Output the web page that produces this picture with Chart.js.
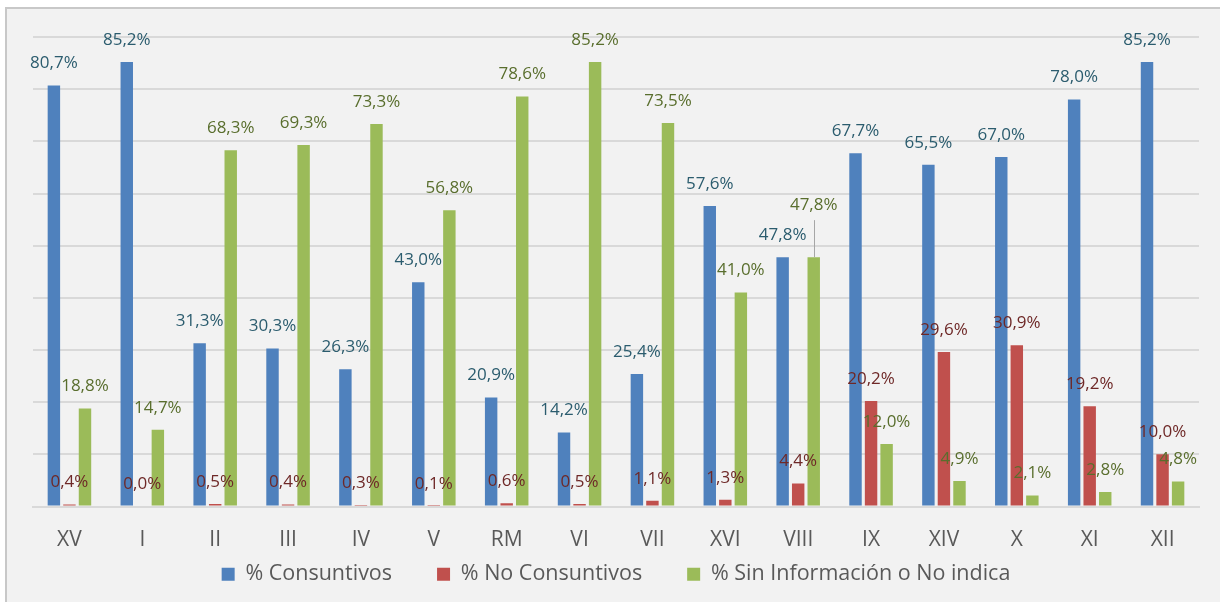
<!DOCTYPE html>
<html>
<head>
<meta charset="utf-8">
<script src="https://cdn.jsdelivr.net/npm/chart.js@4.4.1/dist/chart.umd.min.js"></script>
<style>
  html, body { margin: 0; padding: 0; background: #ffffff; }
  #wrap { width: 1220px; height: 602px; }
</style>
</head>
<body>
<div id="wrap"><canvas id="chart" width="1220" height="602"></canvas></div>
<script>
const regions = ["XV", "I", "II", "III", "IV", "V", "RM", "VI", "VII", "XVI", "VIII", "IX", "XIV", "X", "XI", "XII"];
const consuntivos = [80.7, 85.2, 31.3, 30.3, 26.3, 43.0, 20.9, 14.2, 25.4, 57.6, 47.8, 67.7, 65.5, 67.0, 78.0, 85.2];
const noConsuntivos = [0.4, 0.0, 0.5, 0.4, 0.3, 0.1, 0.6, 0.5, 1.1, 1.3, 4.4, 20.2, 29.6, 30.9, 19.2, 10.0];
const sinInformacion = [18.8, 14.7, 68.3, 69.3, 73.3, 56.8, 78.6, 85.2, 73.5, 41.0, 47.8, 12.0, 4.9, 2.1, 2.8, 4.8];

const FONT = "'Open Sans', Lato, sans-serif";

// labels that sit higher than usual, with a thin leader line down to the bar
const raisedLabels = [{ dataset: 2, index: 10, lift: 30 }];

const frameBackground = {
  id: "frameBackground",
  beforeDraw(chart) {
    const ctx = chart.ctx;
    ctx.save();
    ctx.fillStyle = "#ffffff";
    ctx.fillRect(0, 0, chart.width, chart.height);
    ctx.fillStyle = "#f2f2f2";
    ctx.fillRect(6, 8, chart.width - 6, chart.height - 8);
    ctx.strokeStyle = "#c8c8c8";
    ctx.lineWidth = 2;
    ctx.beginPath();
    ctx.moveTo(6, chart.height);
    ctx.lineTo(6, 8);
    ctx.lineTo(chart.width, 8);
    ctx.stroke();
    ctx.restore();
  },
};

const valueLabels = {
  id: "valueLabels",
  afterDatasetsDraw(chart) {
    const ctx = chart.ctx;
    ctx.save();
    ctx.font = "17px " + FONT;
    ctx.textAlign = "center";
    ctx.textBaseline = "middle";

    chart.data.datasets.forEach((dataset, datasetIndex) => {
      const meta = chart.getDatasetMeta(datasetIndex);
      ctx.fillStyle = dataset.labelColor;

      meta.data.forEach((bar, index) => {
        const value = dataset.data[index];
        const text = value.toFixed(1).replace(".", ",") + "%";
        const raised = raisedLabels.find((r) => r.dataset === datasetIndex && r.index === index);
        let y = bar.y - 22;

        if (raised) {
          y -= raised.lift;
          ctx.save();
          ctx.strokeStyle = "#a6a6a6";
          ctx.lineWidth = 1;
          ctx.beginPath();
          ctx.moveTo(Math.round(bar.x) + 0.5, y + 15);
          ctx.lineTo(Math.round(bar.x) + 0.5, bar.y);
          ctx.stroke();
          ctx.restore();
        }

        ctx.fillText(text, bar.x, y);
      });
    });

    ctx.restore();
  },
};

new Chart(document.getElementById("chart"), {
  type: "bar",
  data: {
    labels: regions,
    datasets: [
      {
        label: "% Consuntivos",
        data: consuntivos,
        backgroundColor: "#4f81bd",
        labelColor: "#2b5c6e",
      },
      {
        label: "% No Consuntivos",
        data: noConsuntivos,
        backgroundColor: "#c0504d",
        labelColor: "#6e2827",
      },
      {
        label: "% Sin Información o No indica",
        data: sinInformacion,
        backgroundColor: "#9bbb59",
        labelColor: "#596e2d",
      },
    ],
  },
  plugins: [frameBackground, valueLabels],
  options: {
    responsive: false,
    animation: false,
    devicePixelRatio: 1,
    datasets: {
      bar: {
        categoryPercentage: 0.64,
        barPercentage: 0.8,
      },
    },
    layout: {
      padding: { left: 33, right: 21, top: 37, bottom: 7 },
    },
    plugins: {
      tooltip: { enabled: false },
      legend: {
        position: "bottom",
        labels: {
          boxWidth: 13,
          boxHeight: 13,
          padding: 45,
          color: "#595959",
          font: { family: FONT, size: 21.5 },
        },
      },
    },
    scales: {
      x: {
        grid: { display: false },
        border: { color: "#d9d9d9", width: 2 },
        ticks: {
          color: "#595959",
          padding: 13,
          font: { family: FONT, size: 21 },
        },
        afterFit(scale) {
          // the axis box stays short so the legend sits close under it;
          // tick labels are allowed to draw past the box
          scale.height = 12;
          scale._computeLabelArea = () => undefined;
        },
      },
      y: {
        min: 0,
        max: 90,
        ticks: { stepSize: 10, display: false },
        border: { display: false },
        grid: { color: "#d9d9d9", lineWidth: 2, drawTicks: false },
        afterFit(scale) {
          scale.width = 0;
        },
      },
    },
  },
});
</script>
</body>
</html>
